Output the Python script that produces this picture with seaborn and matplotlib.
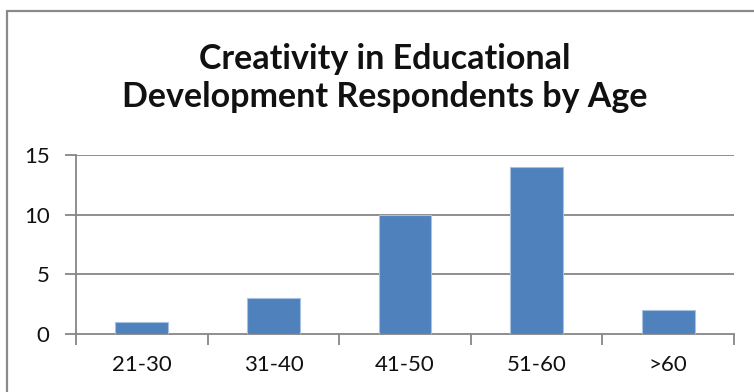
import matplotlib
matplotlib.use("Agg")
import matplotlib.pyplot as plt
from matplotlib.patches import Rectangle
import seaborn as sns
import pandas as pd

age_groups = ["21-30", "31-40", "41-50", "51-60", ">60"]
respondents = [1, 3, 10, 14, 2]
y_ticks = [0, 5, 10, 15]
title = "Creativity in Educational\nDevelopment Respondents by Age"

sns.set_theme(style="white")
plt.rcParams["font.family"] = ["Lato", "DejaVu Sans"]

W, H = 754, 392
fig = plt.figure(figsize=(W / 100, H / 100), dpi=100)
fig.patch.set_facecolor("white")

# outer chart border (runs off the right and bottom edges)
fig.add_artist(Rectangle((7 / W, -0.1), 1.2, (H - 11) / H + 0.1,
                         transform=fig.transFigure, fill=False,
                         edgecolor="#8a8a8a", linewidth=1.6))

x0, x1, y0, y1 = 76, 734, 334, 155
ax = fig.add_axes([x0 / W, 1 - y0 / H, (x1 - x0) / W, (y0 - y1) / H])

df = pd.DataFrame({"age": age_groups, "count": respondents})
sns.barplot(data=df, x="age", y="count", ax=ax, color="#4f81bd",
            saturation=1, width=0.4, edgecolor="#a9c1e0", linewidth=0.8,
            zorder=3)

ax.set_xlim(-0.5, len(age_groups) - 0.5)
ax.set_ylim(0, 15)
ax.set_yticks(y_ticks)
ax.set_xlabel("")
ax.set_ylabel("")

grid_c = "#868686"
for v in y_ticks[1:]:
    ax.axhline(v, color=grid_c, linewidth=1.3, zorder=1)

for side in ["top", "right"]:
    ax.spines[side].set_visible(False)
for side in ["left", "bottom"]:
    ax.spines[side].set_color(grid_c)
    ax.spines[side].set_linewidth(1.3)

ax.tick_params(axis="y", length=8, width=1.3, color=grid_c, pad=11,
               labelsize=16, labelcolor="#111111", left=True, direction="out")
ax.tick_params(axis="x", which="major", length=0, pad=15, labelsize=16,
               labelcolor="#111111")
ax.set_xticks([i - 0.5 for i in range(len(age_groups) + 1)], minor=True)
ax.tick_params(axis="x", which="minor", length=8, width=1.3, color=grid_c,
               bottom=True, direction="out")

fig.text(385 / W, 1 - 78 / H, title, ha="center", va="center",
         fontsize=24.5, fontweight="bold", color="#111111", linespacing=1.2)

fig.savefig("out.png", dpi=100, facecolor="white")
